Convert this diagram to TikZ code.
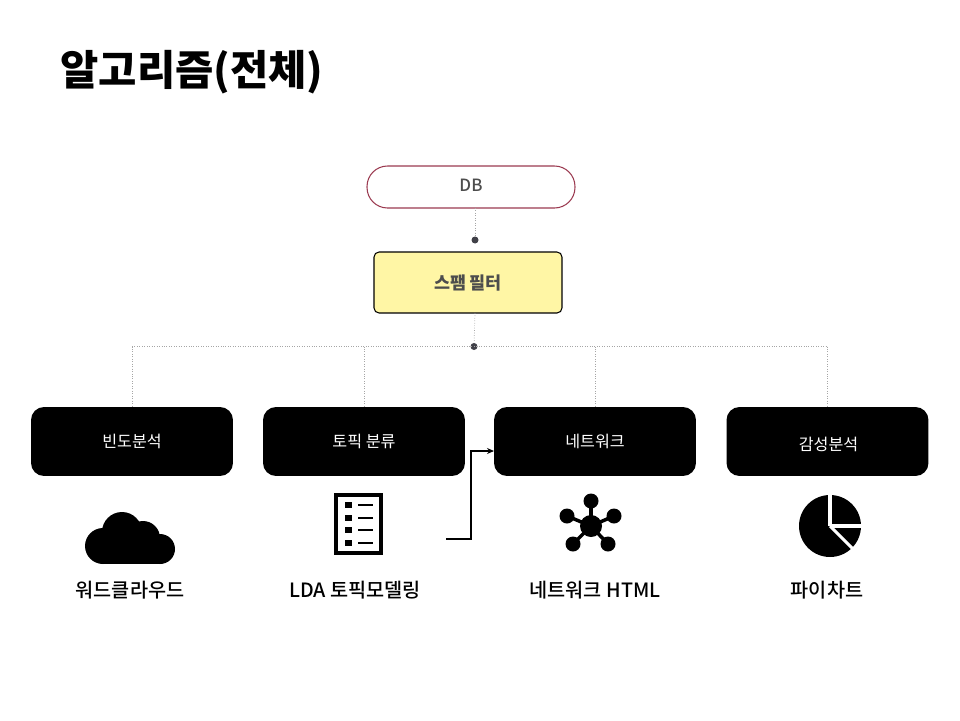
\documentclass[tikz,border=0pt]{standalone}
\usepackage{fontspec}
\usetikzlibrary{arrows.meta}
\setmainfont{Noto Sans CJK KR}
\newfontfamily\cjkmed{Noto Sans CJK KR Medium}
\definecolor{dbline}{HTML}{9B3A50}
\definecolor{filterfill}{HTML}{FFF6A5}
\definecolor{softtext}{HTML}{4D4D4D}
\definecolor{dotfill}{HTML}{404048}
\tikzset{
    dbnode/.style={draw=dbline,line width=0.6pt,fill=white,rounded corners=0.41cm,minimum width=4.16cm,minimum height=0.84cm,inner sep=0pt,text=softtext,font=\fontsize{9.6}{10}\selectfont\cjkmed},
    filternode/.style={draw=black,line width=0.6pt,fill=filterfill,rounded corners=0.1cm,minimum width=3.76cm,minimum height=1.22cm,inner sep=0pt,text=softtext,font=\fontsize{9.9}{10}\selectfont\bfseries},
    boxnode/.style={fill=black,rounded corners=0.26cm,minimum width=4.04cm,minimum height=1.38cm,inner sep=0pt,text=white,font=\fontsize{9.2}{10}\selectfont},
    labelnode/.style={inner sep=0pt,font=\fontsize{11.2}{12}\selectfont\cjkmed},
    dotnode/.style={circle,fill=dotfill,minimum size=0.14cm,inner sep=0pt},
    busline/.style={gray!70,line width=0.4pt,densely dotted},
    iconline/.style={white,line width=1.8pt}
}
\begin{document}
\begin{tikzpicture}[x=0.02cm,y=-0.02cm]
        \useasboundingbox (0,0) rectangle (960,720);
        \node [inner sep=0pt,font=\fontsize{23.7}{26}\selectfont\bfseries] (title) at(192,72.5) {알고리즘(전체)};

        \node [dbnode] (db) at(471,187) {\raisebox{0.02cm}[0.2cm][0cm]{DB}};
        \node [filternode] (filter) at(468,282.5) {스팸 필터};
        \node [dotnode] (dota) at(475,240) {};
        \node [dotnode] (dotb) at(474,346.5) {};
        \coordinate (dbout) at(475,208);
        \coordinate (filterout) at(475,313);
        \draw [busline] (dbout)--(dota);
        \draw [busline] (filterout)--(dotb);

        \node [boxnode] (freq) at(132,441.5) {빈도분석};
        \node [boxnode] (topic) at(364,441.5) {토픽 분류};
        \node [boxnode] (net) at(595,441.5) {네트워크};
        \node [boxnode] (senti) at(827.5,441.5) {\raisebox{-0.06cm}[0.36cm][0.14cm]{\hspace{0.04cm}감성분석}};
        \draw [busline] (freq |- dotb)--(senti |- dotb);
        \foreach \n in {freq,topic,net,senti}
            \draw [busline] (\n |- dotb)--(\n.north);

        % 아이콘: 구름
        \fill (103,546) circle (18);
        \fill (122,532) circle (20);
        \fill (143,538) circle (17);
        \fill (160,549) circle (15);
        \fill (103,535) rectangle (160,564);

        % 아이콘: 목록
        \draw [line width=2.2pt] (336,495) rectangle (381,553);
        \foreach \y in {505,518,530,543} {
            \fill (344.5,\y-3) rectangle (351.5,\y+3);
            \fill (358,\y-1.3) rectangle (373,\y+1.3);
        }

        % 아이콘: 네트워크
        \fill (591,526) circle (11);
        \foreach \x/\y in {591/501,567/516,614/516,573/544,608/544} {
            \fill (\x,\y) circle (7.5);
            \draw [line width=2pt] (591,526)--(\x,\y);
        }

        % 아이콘: 파이차트
        \fill (830,526) circle (31);
        \draw [iconline] (830,526)--(830,490);
        \draw [iconline] (830,526)--(866,526);
        \draw [iconline] (830,526)--(855,551);

        \node [labelnode] (cloudlabel) at(130,590.5) {워드클라우드};
        \node [labelnode] (ldalabel) at(355,590.5) {LDA 토픽모델링};
        \node [labelnode] (netlabel) at(595,590.5) {네트워크 HTML};
        \node [labelnode] (pielabel) at(827,590.5) {파이차트};

        \coordinate (ldaout) at(446,539);
        \coordinate (bend) at(471,539);
        \coordinate (netin) at(494,451);
        \draw [line width=0.6pt,-{Stealth[length=0.14cm,width=0.12cm]}] (ldaout)--(bend)|-(netin);
\end{tikzpicture}
\end{document}
